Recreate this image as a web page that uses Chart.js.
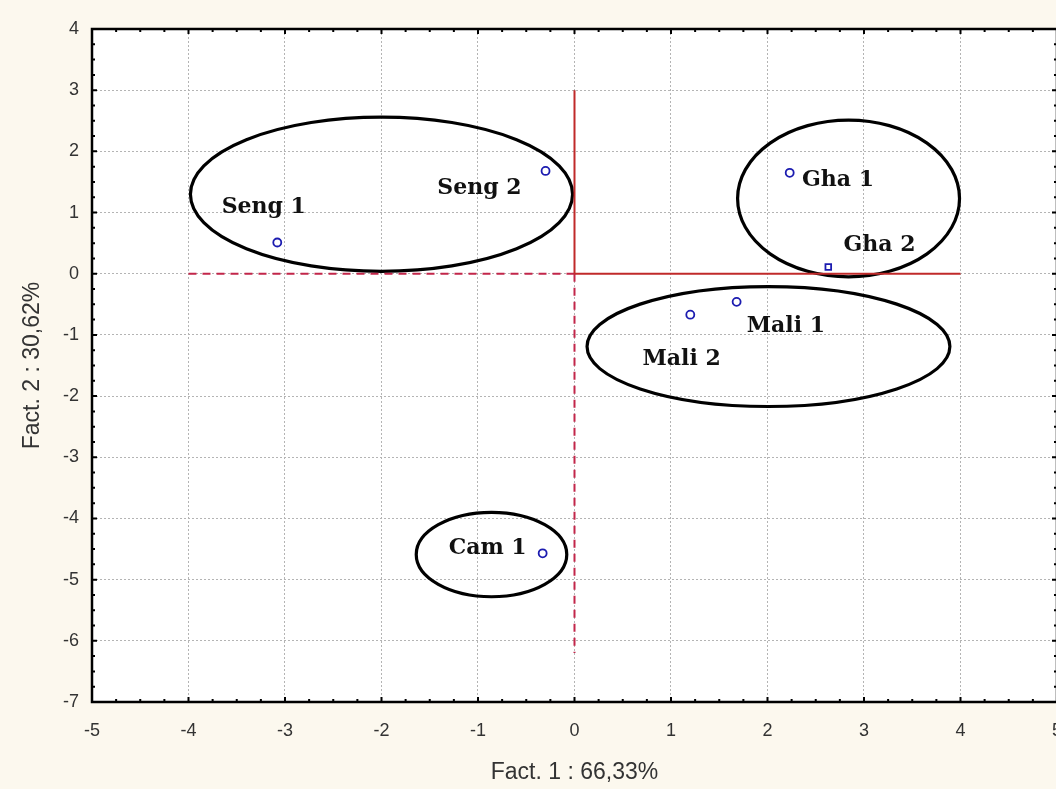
<!DOCTYPE html>
<html>
<head>
<meta charset="utf-8">
<script src="https://cdn.jsdelivr.net/npm/chart.js@4/dist/chart.umd.min.js"></script>
<style>
  html, body { margin: 0; padding: 0; overflow: hidden; background: #fcf8ee; }
  #wrap { position: absolute; left: 0; top: 0; width: 1056px; height: 789px; overflow: hidden; }
</style>
</head>
<body>
<div id="wrap"><canvas id="c" width="1080" height="789"></canvas></div>
<script>
// ---- data ----
const names   = ["Seng 1", "Seng 2", "Gha 1", "Gha 2", "Mali 1", "Mali 2", "Cam 1"];
const fact1   = [-3.08, -0.30, 2.23, 2.63, 1.68, 1.20, -0.33];
const fact2   = [0.51, 1.68, 1.65, 0.11, -0.46, -0.67, -4.57];
const markers = ["circle", "circle", "circle", "rect", "circle", "circle", "circle"];
const labelX  = [-3.22, -0.985, 2.73, 3.16, 2.19, 1.11, -0.90];
const labelY  = [1.09, 1.39, 1.52, 0.47, -0.86, -1.40, -4.49];

// group ellipses (data units)
const groupNames = ["Seng", "Gha", "Mali", "Cam"];
const ellCx = [-2.00, 2.84, 2.01, -0.86];
const ellCy = [1.30, 1.23, -1.19, -4.59];
const ellRx = [1.98, 1.15, 1.88, 0.78];
const ellRy = [1.26, 1.28, 0.98, 0.69];

// reference axes lines
const solidV = [{x: 0, y: 3}, {x: 0, y: 0}];
const solidH = [{x: 0, y: 0}, {x: 4, y: 0}];
const dashH  = [{x: -4, y: 0}, {x: 0, y: 0}];
const dashV  = [{x: 0, y: 0}, {x: 0, y: -6.2}];

const xTicks = [-5, -4, -3, -2, -1, 0, 1, 2, 3, 4, 5];
const yTicks = [4, 3, 2, 1, 0, -1, -2, -3, -4, -5, -6, -7];
const xTitle = "Fact. 1 : 66,33%";
const yTitle = "Fact. 2 : 30,62%";

const points = fact1.map((v, i) => ({x: v, y: fact2[i]}));

const bgPlugin = {
  id: 'bg',
  beforeDraw(chart) {
    const {ctx, chartArea: a} = chart;
    ctx.save();
    ctx.fillStyle = '#fcf8ee';
    ctx.fillRect(0, 0, chart.width, chart.height);
    ctx.fillStyle = '#ffffff';
    ctx.fillRect(a.left, a.top, a.right - a.left, a.bottom - a.top);
    ctx.restore();
  }
};

const ellipsePlugin = {
  id: 'ellipses',
  beforeDatasetsDraw(chart) {
    const {ctx, scales: {x, y}} = chart;
    ctx.save();
    ctx.strokeStyle = '#000';
    ctx.lineWidth = 3.2;
    for (let i = 0; i < ellCx.length; i++) {
      const cx = x.getPixelForValue(ellCx[i]);
      const cy = y.getPixelForValue(ellCy[i]);
      const rx = Math.abs(x.getPixelForValue(ellCx[i] + ellRx[i]) - cx);
      const ry = Math.abs(y.getPixelForValue(ellCy[i] + ellRy[i]) - cy);
      ctx.beginPath();
      ctx.ellipse(cx, cy, rx, ry, 0, 0, Math.PI * 2);
      ctx.stroke();
    }
    ctx.restore();
  },
  afterDatasetsDraw(chart) {
    const {ctx, scales: {x, y}} = chart;
    ctx.save();
    ctx.fillStyle = '#111';
    ctx.font = 'bold 22px "DejaVu Serif", serif';
    ctx.textAlign = 'center';
    ctx.textBaseline = 'middle';
    for (let i = 0; i < names.length; i++) {
      ctx.fillText(names[i], x.getPixelForValue(labelX[i]), y.getPixelForValue(labelY[i]));
    }
    ctx.restore();
  }
};

const framePlugin = {
  id: 'frame',
  afterDraw(chart) {
    const {ctx, chartArea: a, scales: {x, y}} = chart;
    ctx.save();
    ctx.strokeStyle = '#000';
    ctx.lineWidth = 2;
    ctx.beginPath();
    for (let v = x.min; v <= x.max + 1e-9; v += 0.25) {
      const px = x.getPixelForValue(v);
      const len = Math.abs(v - Math.round(v)) < 1e-9 ? 5 : 3;
      ctx.moveTo(px, a.bottom); ctx.lineTo(px, a.bottom - len);
      ctx.moveTo(px, a.top); ctx.lineTo(px, a.top + len);
    }
    for (let v = y.min; v <= y.max + 1e-9; v += 0.25) {
      const py = y.getPixelForValue(v);
      const len = Math.abs(v - Math.round(v)) < 1e-9 ? 5 : 3;
      ctx.moveTo(a.left, py); ctx.lineTo(a.left + len, py);
      ctx.moveTo(a.right, py); ctx.lineTo(a.right - len, py);
    }
    ctx.stroke();
    ctx.lineWidth = 2.5;
    ctx.strokeRect(a.left, a.top, a.right - a.left, a.bottom - a.top);
    ctx.restore();
  }
};

new Chart(document.getElementById('c'), {
  type: 'scatter',
  data: {
    datasets: [
      { data: solidV, showLine: true, borderColor: '#c02a2a', borderWidth: 2, pointRadius: 0, order: 2 },
      { data: solidH, showLine: true, borderColor: '#c02a2a', borderWidth: 2, pointRadius: 0, order: 2 },
      { data: dashH, showLine: true, borderColor: '#c2264a', borderWidth: 2, borderDash: [8, 6], pointRadius: 0, order: 2 },
      { data: dashV, showLine: true, borderColor: '#c2264a', borderWidth: 2, borderDash: [8, 6], pointRadius: 0, order: 2 },
      { data: points, pointStyle: markers, pointRadius: 4, borderColor: '#1c1cb0', borderWidth: 1.8,
        backgroundColor: '#ffffff', order: 1 }
    ]
  },
  options: {
    responsive: false,
    animation: false,
    devicePixelRatio: 1,
    layout: { padding: { top: 29, left: 0, right: 6, bottom: 0 } },
    plugins: { legend: { display: false }, tooltip: { enabled: false } },
    scales: {
      x: {
        type: 'linear', min: -5, max: 5,
        afterBuildTicks(s) { s.ticks = xTicks.map(v => ({value: v})); },
        afterFit(s) { s.height = 87; },
        grid: { color: '#b4b4b4', lineWidth: 1, drawTicks: false },
        border: { display: false, dash: [2, 2] },
        ticks: { padding: 18, color: '#333', font: { family: 'Liberation Sans, Arial, sans-serif', size: 18 }, maxRotation: 0 },
        title: { display: true, text: xTitle, color: '#333', padding: { top: 0, bottom: 3 },
                 font: { family: 'Liberation Sans, Arial, sans-serif', size: 23 } }
      },
      y: {
        type: 'linear', min: -7, max: 4,
        afterBuildTicks(s) { s.ticks = yTicks.map(v => ({value: v})); },
        afterFit(s) { s.width = 92; },
        grid: { color: '#b4b4b4', lineWidth: 1, drawTicks: false },
        border: { display: false, dash: [2, 2] },
        ticks: { padding: 13, color: '#333', font: { family: 'Liberation Sans, Arial, sans-serif', size: 18 } },
        title: { display: true, text: yTitle, color: '#333', padding: { top: 19, bottom: 0 },
                 font: { family: 'Liberation Sans, Arial, sans-serif', size: 23 } }
      }
    }
  },
  plugins: [bgPlugin, ellipsePlugin, framePlugin]
});
</script>
</body>
</html>
